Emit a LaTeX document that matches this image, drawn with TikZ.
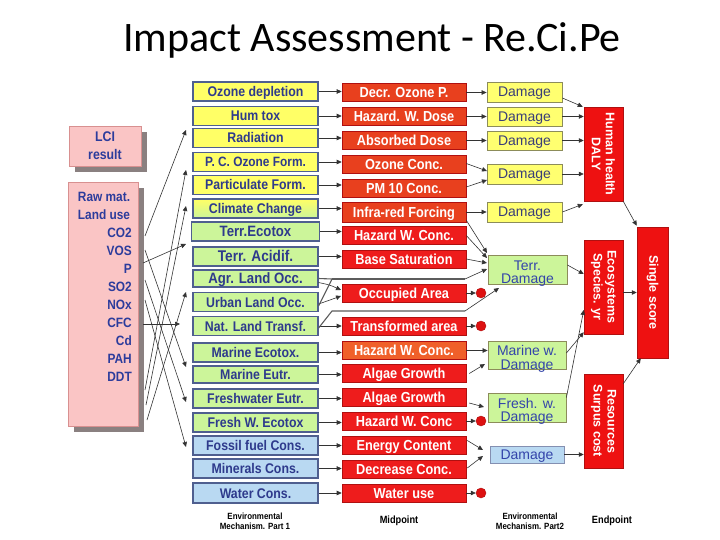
\documentclass[tikz,border=0pt]{standalone}
\usepackage{fontspec}
\setmainfont{Liberation Sans}
\newfontfamily\titlefont{Carlito}
\newfontfamily\boxfont[FakeStretch=0.88]{Liberation Sans}
\usetikzlibrary{arrows.meta,calc}
\definecolor{catyellow}{HTML}{FFFF66}
\definecolor{catgreen}{HTML}{CCF59A}
\definecolor{catblue}{HTML}{B9D9F2}
\definecolor{catborder}{HTML}{4F5F8F}
\definecolor{cattext}{HTML}{2E3A8C}
\definecolor{midred}{HTML}{EE1C1C}
\definecolor{midorred}{HTML}{E8401E}
\definecolor{midorange}{HTML}{F0602A}
\definecolor{midborder}{HTML}{B01010}
\definecolor{dmgyellow}{HTML}{FFFF70}
\definecolor{dmgborder}{HTML}{8C8C5A}
\definecolor{dmgtext}{HTML}{3A3E78}
\definecolor{dmgblue}{HTML}{3344AA}
\definecolor{pinkfill}{HTML}{FAC5C5}
\definecolor{pinkborder}{HTML}{D89090}
\definecolor{shadowcol}{HTML}{8A8080}
\definecolor{rawtext}{HTML}{2C3C9C}
\definecolor{endred}{HTML}{EE1111}
\definecolor{dotred}{HTML}{DD1111}
\definecolor{linecol}{HTML}{333333}
\begin{document}
\begin{tikzpicture}[x=1pt,y=-1pt,
  cat/.style={draw=catborder, line width=1.2pt, inner sep=0pt,
    minimum width=125pt, minimum height=19pt, text=cattext, text height=11pt, text depth=1pt,
    font=\boxfont\bfseries\fontsize{14}{15}\selectfont},
  mid/.style={draw=midborder, line width=0.6pt, inner sep=0pt,
    minimum width=124pt, minimum height=18pt, text=white, fill=midred, text height=11.4pt, text depth=1pt,
    font=\boxfont\bfseries\fontsize{14.5}{15}\selectfont},
  dmg/.style={draw=dmgborder, line width=0.8pt, inner sep=0pt,
    minimum width=75pt, minimum height=19pt, fill=dmgyellow, text=dmgtext, text height=11pt, text depth=1pt,
    font=\fontsize{14}{15}\selectfont},
  dmg2/.style={draw=dmgborder, line width=0.8pt, inner sep=0pt,
    minimum width=78pt, minimum height=29pt, fill=catgreen},
  dmgtxt/.style={text=dmgblue, inner sep=0pt, font=\fontsize{14}{13}\selectfont},
  endbox/.style={draw=midborder, line width=0.5pt, fill=endred, inner sep=0pt,
    minimum width=39pt, minimum height=94pt},
  endtext/.style={text=white, align=center, inner sep=0pt, rotate=-90,
    font=\bfseries\fontsize{12.5}{14}\selectfont},
  lcibox/.style={draw=pinkborder, line width=0.6pt, fill=pinkfill, inner sep=0pt},
  shadowbox/.style={fill=shadowcol, draw=none, inner sep=0pt},
  dotnode/.style={circle, fill=dotred, draw=midborder, line width=0.4pt, minimum size=10pt, inner sep=0pt},
  arr/.style={draw=linecol, line width=0.6pt, -{Triangle[length=5pt,width=4.5pt]}},
  thickline/.style={draw=linecol!80, line width=1.1pt},
  lbl/.style={font=\boxfont\bfseries\fontsize{9}{10}\selectfont, align=center, inner sep=0pt},
  lbl2/.style={font=\boxfont\bfseries\fontsize{10.5}{11}\selectfont, inner sep=0pt}
]
\useasboundingbox (0,0) rectangle (720,540);
\fill[white] (0,0) rectangle (720,540);

% title
\node[font=\titlefont\fontsize{42}{46}\selectfont, anchor=base, inner sep=0pt] (title) at (372,52) {Impact Assessment - Re.Ci.Pe};

% LCI boxes
\node[shadowbox, minimum width=72pt, minimum height=40pt] (lcish) at (111,152) {};
\node[lcibox, minimum width=72pt, minimum height=40pt, text=rawtext, align=center,
  font=\boxfont\bfseries\fontsize{14}{18}\selectfont] (lci) at (105,146) {LCI\\result};
\node[shadowbox, minimum width=70pt, minimum height=244pt] (rawsh) at (109,310) {};
\node[lcibox, minimum width=70pt, minimum height=244pt] (raw) at (103.5,304) {};
\node[text=rawtext, font=\boxfont\bfseries\fontsize{13.5}{18}\selectfont, align=center, inner sep=0pt] (rawt) at (104,206) {Raw mat.\\Land use};
\node[text=rawtext, font=\boxfont\bfseries\fontsize{13.5}{18}\selectfont, align=right, anchor=north east, inner sep=0pt] (subs) at (132,228)
  {CO2\\VOS\\P\\SO2\\NOx\\CFC\\Cd\\PAH\\DDT};

% category column
\node[cat, fill=catyellow] (c1) at (255.5,91.5) {Ozone depletion};
\node[cat, fill=catyellow] (c2) at (255.5,116) {Hum tox};
\node[cat, fill=catyellow] (c3) at (255.5,138) {Radiation};
\node[cat, fill=catyellow, font=\boxfont\bfseries\fontsize{13.5}{15}\selectfont] (c4) at (255.5,162) {P. C. Ozone Form.};
\node[cat, fill=catyellow] (c5) at (255.5,185) {Particulate Form.};
\node[cat, top color=catyellow, bottom color=catgreen] (c6) at (255.5,208.5) {Climate Change};
\node[cat, fill=catgreen, minimum width=128pt, line width=1.8pt, font=\boxfont\bfseries\fontsize{15}{15}\selectfont] (c7) at (255.5,231.5) {Terr.Ecotox};
\node[cat, fill=catgreen, font=\boxfont\bfseries\fontsize{15.5}{15}\selectfont] (c8) at (255.5,256.5) {Terr. Acidif.};
\node[cat, fill=catgreen, minimum height=17pt, font=\boxfont\bfseries\fontsize{15}{15}\selectfont] (c9) at (255.5,278.5) {Agr. Land Occ.};
\node[cat, fill=catgreen] (c10) at (255.5,302) {Urban Land Occ.};
\node[cat, fill=catgreen] (c11) at (255.5,326) {Nat. Land Transf.};
\node[cat, fill=catgreen] (c12) at (255.5,352.5) {Marine Ecotox.};
\node[cat, fill=catgreen, minimum height=17pt] (c13) at (255.5,374.5) {Marine Eutr.};
\node[cat, fill=catgreen] (c14) at (255.5,398.5) {Freshwater Eutr.};
\node[cat, fill=catgreen] (c15) at (255.5,422.5) {Fresh W. Ecotox};
\node[cat, fill=catblue] (c16) at (255.5,445.5) {Fossil fuel Cons.};
\node[cat, fill=catblue] (c17) at (255.5,468.5) {Minerals Cons.};
\node[cat, fill=catblue, minimum height=20pt] (c18) at (255.5,493) {Water Cons.};

% midpoint column
\node[mid, fill=midorred] (m1) at (404,92.5) {Decr. Ozone P.};
\node[mid, fill=midorred] (m2) at (404,116.5) {Hazard. W. Dose};
\node[mid, fill=midorred] (m3) at (404,140.5) {Absorbed Dose};
\node[mid, fill=midorred] (m4) at (404,164.5) {Ozone Conc.};
\node[mid, fill=midorred] (m5) at (404,188) {PM 10 Conc.};
\node[mid, fill=midorred, minimum height=20pt] (m6) at (404,212) {Infra-red Forcing};
\node[mid] (m7) at (404,235.5) {Hazard W. Conc.};
\node[mid] (m8) at (404,259) {Base Saturation};
\node[mid] (m9) at (404,293) {Occupied Area};
\node[mid] (m10) at (404,326) {Transformed area};
\node[mid, fill=midorange] (m11) at (404,350.5) {Hazard W. Conc.};
\node[mid] (m12) at (404,373.5) {Algae Growth};
\node[mid] (m13) at (404,397) {Algae Growth};
\node[mid] (m14) at (404,421) {Hazard W. Conc};
\node[mid] (m15) at (404,445.5) {Energy Content};
\node[mid] (m16) at (404,469) {Decrease Conc.};
\node[mid] (m17) at (404,493) {Water use};

% red dots
\node[dotnode] (dot1) at (481,293) {};
\node[dotnode] (dot2) at (481,326) {};
\node[dotnode] (dot3) at (481,421) {};
\node[dotnode] (dot4) at (481,493) {};

% damage column
\node[dmg, minimum height=20pt] (d1) at (524.5,92) {Damage};
\node[dmg] (d2) at (524.5,116.5) {Damage};
\node[dmg] (d3) at (524.5,140.5) {Damage};
\node[dmg, minimum height=20pt] (d4) at (524.5,174) {Damage};
\node[dmg, minimum height=20pt] (d5) at (524.5,212) {Damage};
\node[dmg2, minimum width=79pt] (td) at (527.5,269.5) {};
\node[dmgtxt] (tdT) at ($(td.center)+(0,4.5)$) {\begin{tabular}{@{}c@{}}Terr.\\Damage\end{tabular}};
\node[dmg2, minimum height=28pt] (mw) at (527,355) {};
\node[dmgtxt] (mwT) at ($(mw.center)+(0,4.5)$) {\begin{tabular}{@{}c@{}}Marine w.\\Damage\end{tabular}};
\node[dmg2] (fw) at (527,407.5) {};
\node[dmgtxt] (fwT) at ($(fw.center)+(0,4.5)$) {\begin{tabular}{@{}c@{}}Fresh. w.\\Damage\end{tabular}};
\node[dmg, fill=catblue, draw=catborder!70, line width=0.6pt, minimum width=74pt, minimum height=17pt, text=dmgblue] (bd) at (527,454.5) {Damage};

% endpoint column
\node[endbox] (hh) at (603.5,154) {};
\node[endtext] (hhT) at (hh.center) {Human health\\DALY};
\node[endbox] (eco) at (603.5,287) {};
\node[endtext] (ecoT) at (eco.center) {Ecosystems\\Species. yr};
\node[endbox] (res) at (603.5,421) {};
\node[endtext] (resT) at (res.center) {Resources\\Surpus cost};
\node[endbox, minimum width=31pt, minimum height=131pt] (ss) at (652.5,292.5) {};
\node[endtext] (ssT) at (ss.center) {Single score};

% bottom labels
\node[lbl] (lab1) at (255,521) {Environmental\\Mechanism. Part 1};
\node[lbl2] (lab2) at (399,521) {Midpoint};
\node[lbl] (lab3) at (530,521) {Environmental\\Mechanism. Part2};
\node[lbl2] (lab4) at (612,521) {Endpoint};

% LCI -> categories
\coordinate (s1) at (145,236); \coordinate (t1) at (186,130);
\coordinate (s2) at (145,390); \coordinate (t2) at (186,170);
\coordinate (s3) at (146,405); \coordinate (t3) at (186,206);
\coordinate (s4) at (143,263); \coordinate (t4) at (186,244);
\coordinate (s5) at (147,420); \coordinate (t5) at (186,292);
\coordinate (s6) at (143,324); \coordinate (t6) at (180,324);
\coordinate (s7) at (145,250); \coordinate (t7) at (186,367);
\coordinate (s8) at (145,280); \coordinate (t8) at (186,402);
\coordinate (s9) at (145,300); \coordinate (t9) at (186,447);
\foreach \i in {1,...,9} { \draw[arr] (s\i) -- (t\i); }

% categories -> midpoints
\foreach \c/\m in {1/1,2/2,3/3,4/4,5/5,6/6,7/7,8/8,11/10,12/11,13/12,14/13,15/14,16/15,17/16,18/17}
  { \draw[arr] (c\c.east) -- (c\c.east -| m\m.west); }
\coordinate (occA) at (341,290);
\coordinate (occB) at (341,296);
\draw[arr] ($(c9.east)+(0,4)$) .. controls (330,285) .. (occA);
\draw[arr] ($(c10.east)+(0,2)$) .. controls (330,300) .. (occB);

% long connectors to Terr. Damage
\coordinate (a1) at (332,279); \coordinate (a2) at (465,279); \coordinate (aT) at (487,269);
\coordinate (b1) at (332,311); \coordinate (b2) at (465,311); \coordinate (bT) at (499,288);
\draw[thickline] (c9.east) -- (a1);
\draw[thickline] ($(c10.east)+(0,4)$) -- (a1);
\draw[thickline] (a1) -- (a2);
\draw[arr] (a2) -- (aT);
\draw[thickline] ($(c11.east)+(0,2)$) -- (b1) -- (b2);
\draw[arr] (b2) -- (bT);

% midpoints -> damages
\foreach \m/\d in {1/1,2/2,3/3,6/5}
  { \draw[arr] (m\m.east) -- (m\m.east -| d\d.west); }
\draw[arr] ($(m4.east)+(0,-1)$) -- (487,171);
\draw[arr] ($(m5.east)+(0,-1)$) -- (487,180);
\draw[arr] ($(m6.south east)+(0,-2)$) -- (487,253);
\draw[arr] (m7.east) -- (487,258);
\draw[arr] (m8.east) -- (487,263);
\draw[arr] (m11.east) -- (m11.east -| mw.west);
\draw[arr] ($(m12.east)+(3,0)$) -- (485,364);
\draw[arr] ($(m13.east)+(3,6)$) -- (484,407);
\draw[arr] ($(m15.east)+(1,-5)$) -- (483,450);
\draw[arr] ($(m16.east)+(1,-1)$) -- (483,456);
\draw[arr] (m9.east) -- (dot1.west);
\draw[arr] (m10.east) -- (dot2.west);
\draw[arr] (m14.east) -- (dot3.west);
\draw[arr] (m17.east) -- (dot4.west);

% damages -> endpoints
\draw[arr] ($(d1.east)+(0,6)$) -- ($(hh.north west)+(-1,0)$);
\draw[arr] (d2.east) -- (d2.east -| hh.west);
\draw[arr] (d3.east) -- (d3.east -| hh.west);
\draw[arr] (d4.east) -- (d4.east -| hh.west);
\draw[arr] (d5.east) -- ($(hh.south west)+(-1,3)$);
\draw[arr] ($(td.east)+(0,-4.5)$) -- ($(eco.west)+(0,-13)$);
\draw[arr] ($(mw.east)+(0,-2)$) -- ($(eco.south west)+(0,-2)$);
\draw[arr] ($(fw.east)+(0,-10)$) -- ($(eco.west)+(0,23)$);
\draw[arr] (bd.east) -- (bd.east -| res.west);

% endpoints -> single score
\draw[arr] (hh.south east) -- ($(ss.north west)+(0,-1)$);
\draw[arr] ($(eco.east)+(0,5.5)$) -- ($(ss.west)$);
\draw[arr] ($(res.north east)+(0,10)$) -- ($(ss.south west)+(4,0)$);
\end{tikzpicture}
\end{document}
